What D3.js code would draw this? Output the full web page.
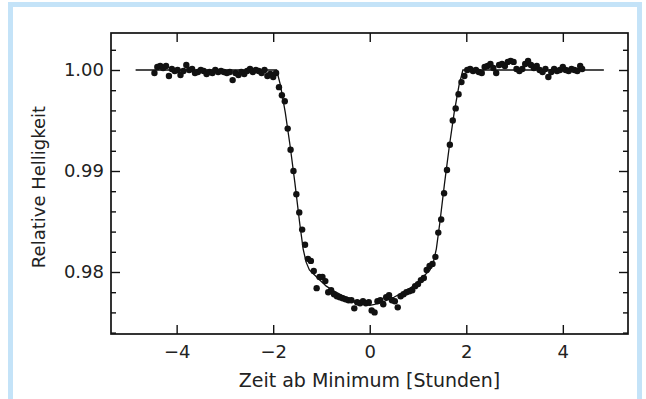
<!DOCTYPE html>
<html><head><meta charset="utf-8">
<script src="https://cdn.jsdelivr.net/npm/d3@7"></script>
<style>
html,body{margin:0;padding:0;background:#fff;}
svg{display:block;}
text{font-family:"DejaVu Sans",sans-serif;fill:#222;}
</style></head>
<body><svg id="c" width="646" height="399"></svg>
<script>
// ---- data ----
const time = [
 -4.46,-4.40,-4.34,-4.28,-4.22,-4.16,-4.10,-4.04,-3.98,-3.92,-3.86,-3.80,-3.74,-3.68,-3.62,-3.56,-3.50,-3.44,-3.38,-3.32,-3.26,-3.20,-3.14,-3.08,-3.02,-2.96,-2.90,-2.84,-2.78,-2.72,-2.66,-2.60,-2.54,-2.48,-2.42,-2.36,-2.30,-2.24,-2.18,-2.12,-2.06,-2.00,-1.94,
 -1.88,-1.82,-1.76,-1.70,-1.64,-1.58,-1.52,-1.46,-1.40,-1.34,-1.28,-1.22,-1.16,-1.10,-1.04,-0.98,-0.92,-0.86,-0.80,-0.74,-0.68,-0.62,-0.56,-0.50,-0.44,-0.38,-0.32,-0.26,-0.20,-0.14,-0.08,-0.02,
 0.04,0.10,0.16,0.22,0.28,0.34,0.40,0.46,0.52,0.58,0.64,0.70,0.76,0.82,0.88,0.94,1.00,1.06,1.12,1.18,1.24,1.30,1.36,1.42,1.48,1.54,1.60,1.66,1.72,1.78,1.84,1.90,1.96,
 2.02,2.08,2.14,2.20,2.26,2.32,2.38,2.44,2.50,2.56,2.62,2.68,2.74,2.80,2.86,2.92,2.98,3.04,3.10,3.16,3.22,3.28,3.34,3.40,3.46,3.52,3.58,3.64,3.70,3.76,3.82,3.88,3.94,4.00,4.06,4.12,4.18,4.24,4.30,4.36,4.40
];
const flux = [
 0.9997,1.0003,1.0004,1.0002,1.0004,0.9994,1.0001,0.9999,1.0000,0.9995,0.9999,1.0005,1.0000,1.0001,0.9997,0.9998,1.0000,0.9999,0.9996,0.9998,0.9997,1.0000,0.9998,0.9999,0.9998,0.9997,0.9998,0.9990,0.9997,0.9995,0.9998,0.9996,0.9999,1.0001,0.9998,1.0000,0.9999,0.9997,1.0000,0.9994,0.9996,0.9993,0.9997,
 0.9983,0.9975,0.9969,0.9942,0.9921,0.9900,0.9877,0.9859,0.9842,0.9827,0.9813,0.9811,0.9801,0.9784,0.9795,0.9795,0.9791,0.9780,0.9782,0.9778,0.9776,0.9775,0.9774,0.9773,0.9772,0.9772,0.9764,0.9770,0.9769,0.9771,0.9769,0.9770,
 0.9762,0.9760,0.9771,0.9772,0.9768,0.9775,0.9777,0.9772,0.9771,0.9765,0.9776,0.9778,0.9780,0.9781,0.9782,0.9786,0.9788,0.9792,0.9794,0.9802,0.9806,0.9808,0.9815,0.9839,0.9852,0.9878,0.9901,0.9926,0.9950,0.9962,0.9976,0.9988,0.9994,
 1.0000,1.0001,0.9999,1.0000,0.9998,0.9997,1.0003,1.0004,1.0006,1.0002,0.9997,1.0005,1.0006,1.0004,1.0008,1.0009,1.0008,1.0001,0.9999,1.0001,1.0006,1.0009,1.0005,1.0002,1.0004,1.0000,0.9998,1.0001,0.9993,0.9998,1.0001,0.9999,1.0000,1.0003,1.0000,0.9999,1.0001,1.0000,0.9999,1.0004,1.0001
];
const modelTime = [-4.85,-1.93,-1.85,-1.75,-1.65,-1.55,-1.45,-1.38,-1.32,-1.25,-1.10,-0.90,-0.70,-0.50,-0.30,-0.10,0.00,0.10,0.30,0.50,0.70,0.90,1.10,1.25,1.32,1.38,1.45,1.55,1.65,1.75,1.85,1.93,4.85];
const modelFlux = [1.0000,1.0000,0.9985,0.9958,0.9925,0.9888,0.9848,0.9823,0.9810,0.9802,0.9795,0.9786,0.9780,0.9775,0.9771,0.9768,0.9767,0.9768,0.9771,0.9775,0.9780,0.9786,0.9795,0.9802,0.9810,0.9823,0.9848,0.9888,0.9925,0.9958,0.9985,1.0000,1.0000];
const xTicks = [-4,-2,0,2,4];
const yTicks = [0.98,0.99,1.00];
const yMinorTicks = [0.974,0.976,0.978,0.982,0.984,0.986,0.988,0.992,0.994,0.996,0.998,1.002];
const xLabel = "Zeit ab Minimum [Stunden]";
const yLabel = "Relative Helligkeit";

// ---- layout ----
const W = 646, H = 399;
const L = 111, R = 628, T = 33, B = 334;
const svg = d3.select("#c");

// frame
svg.append("rect").attr("x",10.5).attr("y",4.5).attr("width",629).attr("height",430)
  .attr("fill","none").attr("stroke","#c4e3f8").attr("stroke-width",5);

const x = d3.scaleLinear().domain([-5.36,5.35]).range([L,R]);
const yPerUnit = 10100;
const y = d3.scaleLinear().domain([1.00 - (B-70)/yPerUnit, 1.00 + (70-T)/yPerUnit]).range([B,T]);

const fs = 18;
// axes
function styleAxis(g){
  g.select(".domain").remove();
  g.selectAll(".tick line").attr("stroke","#111").attr("stroke-width",1.4);
  g.selectAll(".tick text").attr("font-size",fs).attr("font-family","DejaVu Sans").attr("fill","#222");
}
svg.append("g").attr("transform",`translate(0,${B})`)
  .call(d3.axisBottom(x).tickValues(xTicks).tickSize(-9).tickPadding(11).tickFormat(d=>d3.format("")(d).replace("-","\u2212")))
  .call(styleAxis);
svg.append("g").attr("transform",`translate(0,${T})`)
  .call(d3.axisTop(x).tickValues(xTicks).tickSize(-9).tickFormat(""))
  .call(styleAxis);
svg.append("g").attr("transform",`translate(${L},0)`)
  .call(d3.axisLeft(y).tickValues(yTicks).tickSize(-9).tickPadding(7).tickFormat(d3.format(".2f")))
  .call(styleAxis);
svg.append("g").attr("transform",`translate(${L},0)`)
  .call(d3.axisLeft(y).tickValues(yMinorTicks).tickSize(-5).tickFormat(""))
  .call(styleAxis);
svg.append("g").attr("transform",`translate(${R},0)`)
  .call(d3.axisRight(y).tickValues(yTicks).tickSize(-9).tickFormat(""))
  .call(styleAxis);
svg.append("g").attr("transform",`translate(${R},0)`)
  .call(d3.axisRight(y).tickValues(yMinorTicks).tickSize(-5).tickFormat(""))
  .call(styleAxis);

// model line
const line = d3.line().x(d=>x(d[0])).y(d=>y(d[1]));
svg.append("path").datum(modelTime.map((t,i)=>[t,modelFlux[i]]))
  .attr("d",line).attr("fill","none").attr("stroke","#111").attr("stroke-width",1.3);

// points
svg.append("g").selectAll("circle").data(time.map((t,i)=>[t,flux[i]])).join("circle")
  .attr("cx",d=>x(d[0])).attr("cy",d=>y(d[1])).attr("r",3.2).attr("fill","#111");

// spine box
svg.append("rect").attr("x",L).attr("y",T).attr("width",R-L).attr("height",B-T)
  .attr("fill","none").attr("stroke","#111").attr("stroke-width",1.7);

// labels
svg.append("text").attr("x",(L+R)/2).attr("y",387).attr("text-anchor","middle")
  .attr("font-size",19).text(xLabel);
svg.append("text").attr("transform",`translate(45,187) rotate(-90)`).attr("text-anchor","middle")
  .attr("font-size",18).text(yLabel);
</script></body></html>
